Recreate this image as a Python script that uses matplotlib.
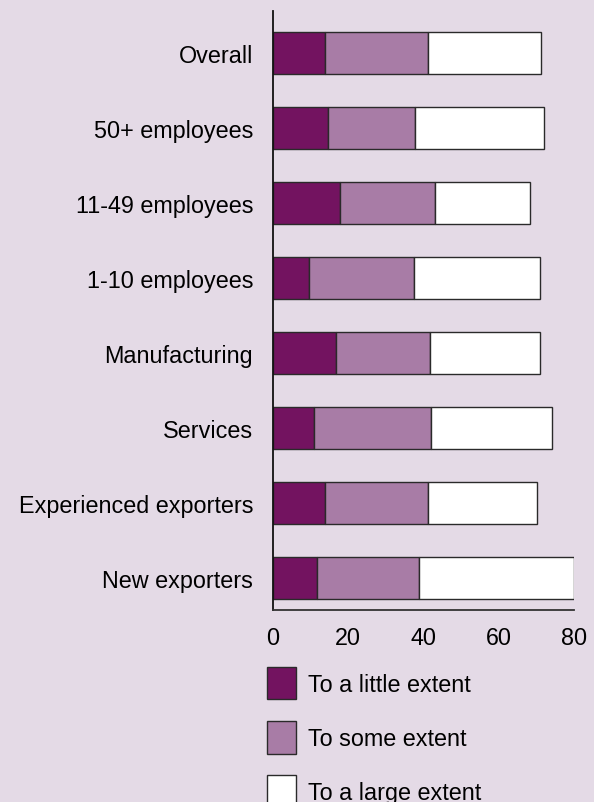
import numpy as np
import matplotlib.pyplot as plt

plt.rcParams['font.family'] = ['Liberation Sans', 'DejaVu Sans']

categories = ['Overall', '50+ employees', '11-49 employees', '1-10 employees',
              'Manufacturing', 'Services', 'Experienced exporters', 'New exporters']
little = [13.9, 14.8, 17.9, 9.8, 16.8, 10.9, 13.9, 11.9]
some = [27.2, 23.1, 25.2, 27.8, 25.0, 31.1, 27.2, 27.0]
large = [30.2, 34.0, 25.2, 33.2, 29.1, 32.1, 29.0, 41.1]
series_names = ['To a little extent', 'To some extent', 'To a large extent']

bg = '#e4dae6'
colors = ['#731360', '#a87ca6', '#ffffff']
fs = 16.8

fig = plt.figure(figsize=(5.94, 8.03), dpi=100, facecolor=bg)
ax = fig.add_axes([0.4588, 0.2395, 0.508, 0.7455])
ax.set_facecolor(bg)

y = np.arange(len(categories))
left = np.zeros(len(categories))
bars = []
for vals, c, name in zip([little, some, large], colors, series_names):
    b = ax.barh(y, vals, left=left, height=0.56, color=c,
                edgecolor='#2a2a2a', linewidth=1.0, label=name)
    bars.append(b)
    left += np.array(vals)

ax.set_xlim(0, 80)
ax.set_ylim(7.42, -0.56)
ax.set_xticks([0, 20, 40, 60, 80])
ax.set_yticks(y)
ax.set_yticklabels(categories)
ax.tick_params(axis='both', length=0, labelsize=fs)
ax.tick_params(axis='x', pad=12)
ax.tick_params(axis='y', pad=14)

for s in ['top', 'right']:
    ax.spines[s].set_visible(False)
ax.spines['left'].set_color('#111111')
ax.spines['bottom'].set_color('#333333')
ax.spines['left'].set_linewidth(1.3)
ax.spines['bottom'].set_linewidth(1.3)

# legend stacked under the axis, last entry runs to the bottom edge
leg = fig.legend(handles=bars, labels=series_names, loc='upper left',
                 bbox_to_anchor=(0.449, 0.1681), frameon=False, fontsize=fs,
                 handlelength=1.27, handleheight=1.76, labelspacing=0.93,
                 handletextpad=0.52, borderpad=0, borderaxespad=0)

fig.savefig('out.png', dpi=100, facecolor=bg)
